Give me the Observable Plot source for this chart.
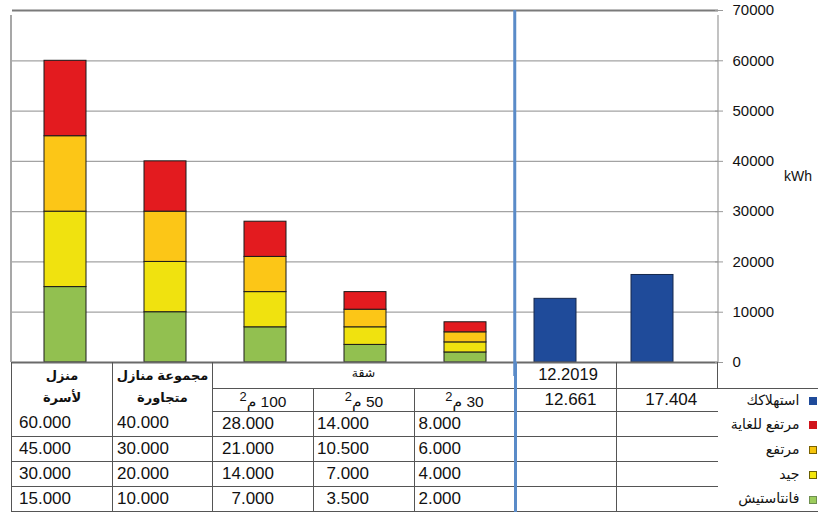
<!DOCTYPE html>
<html>
<head>
<meta charset="utf-8">
<script src="https://cdn.jsdelivr.net/npm/d3@7"></script>
<script src="https://cdn.jsdelivr.net/npm/@observablehq/plot@0.6"></script>
<style>
  html, body { margin: 0; padding: 0; background: #fff; }
  body { font-family: "Liberation Sans", Arial, "DejaVu Sans", sans-serif; }
  #wrap { position: relative; width: 818px; height: 515px; overflow: hidden; }
  #chart { position: absolute; left: 0; top: 0; }
  #kwh { position: absolute; left: 784px; top: 168px; font-size: 14px; color: #111; }
  table { position: absolute; left: 11px; top: 362px; border-collapse: collapse; table-layout: fixed; width: 807px; color: #111; }
  td { padding: 0; border: 0 solid #555; white-space: nowrap; overflow: visible; }
  .hdr { font-weight: bold; font-size: 13px; text-align: center; line-height: 22px; vertical-align: middle; }
  .num { font-size: 17px; text-align: right; }
  .ctr { text-align: center; font-size: 16.5px; }
  .bl { border-left-width: 1px; }
  .br { border-right-width: 1px; }
  .bb { border-bottom-width: 1px; }
  .blue { border-right: 3px solid #5a8bc8 !important; }
  .leg { text-align: right; font-size: 14px; padding-right: 2px; }
  .sq { display: inline-block; width: 8px; height: 8px; margin-left: 9px; vertical-align: middle; box-sizing: border-box; }
</style>
</head>
<body>
<div id="wrap">
  <div id="chart"></div>
  <div id="kwh">kWh</div>
  <table id="tbl"></table>
</div>
<script>
// ---- data ----
const categories = ["house", "terraced", "apt100", "apt50", "apt30", "cons2019", "cons2"];
const rowLabels = ["منزل<br>لأسرة", "مجموعة منازل<br>متجاورة"];
const apartmentLabel = "شقة";
const areaLabels = ["100 م<sup>2</sup>", "50 م<sup>2</sup>", "30 م<sup>2</sup>"];
const consumptionHeader = "12.2019";
// cumulative thresholds (kWh) for the five reference homes
const veryHigh = [60000, 40000, 28000, 14000, 8000];
const high = [45000, 30000, 21000, 10500, 6000];
const good = [30000, 20000, 14000, 7000, 4000];
const fantastic = [15000, 10000, 7000, 3500, 2000];
const consumption = [12661, 17404];
const consumptionText = ["12.661", "17.404"];
const yTicks = [0, 10000, 20000, 30000, 40000, 50000, 60000, 70000];
const levelNames = ["استهلاكك", "مرتفع للغاية", "مرتفع", "جيد", "فانتاستيش"];
const levelColors = { fantastic: "#92c050", good: "#f0e20f", high: "#fcc617", veryHigh: "#e31b1f" };
const consumptionColor = "#1f4b9a";

// ---- build segments ----
const segments = [];
categories.slice(0, 5).forEach((c, i) => {
  segments.push({ cat: c, y1: 0, y2: fantastic[i], level: "fantastic" });
  segments.push({ cat: c, y1: fantastic[i], y2: good[i], level: "good" });
  segments.push({ cat: c, y1: good[i], y2: high[i], level: "high" });
  segments.push({ cat: c, y1: high[i], y2: veryHigh[i], level: "veryHigh" });
});
const consRows = consumption.map((v, i) => ({ cat: categories[5 + i], value: v }));

const PAD_IN = 0.585, PAD_OUT = 0.29;

function frameLines(index, scales, values, dims) {
  const g = d3.create("svg:g");
  const x = scales.x, y = scales.y;
  const step = x(categories[6]) - x(categories[5]);
  const bx = x(categories[5]) - step * PAD_IN / 2;
  const top = y(70000), bottom = y(0);
  g.append("line").attr("x1", dims.marginLeft - 1).attr("x2", dims.marginLeft - 1)
    .attr("y1", top + 5).attr("y2", bottom).attr("stroke", "#8a8a8a").attr("stroke-width", 1.5);
  g.append("line").attr("x1", dims.width - dims.marginRight).attr("x2", dims.width - dims.marginRight)
    .attr("y1", top + 5).attr("y2", bottom).attr("stroke", "#9a9a9a").attr("stroke-width", 1.2);
  g.append("line").attr("x1", bx).attr("x2", bx)
    .attr("y1", top).attr("y2", dims.height).attr("stroke", "#5a8bc8").attr("stroke-width", 3);
  return g.node();
}

const plot = Plot.plot({
  width: 818,
  height: 376,
  marginLeft: 12,
  marginRight: 100,
  marginTop: 10,
  marginBottom: 14,
  style: { fontFamily: "Liberation Sans, Arial, sans-serif", fontSize: "15px", color: "#111", background: "transparent" },
  x: { domain: categories, paddingInner: PAD_IN, paddingOuter: PAD_OUT, axis: null },
  y: { domain: [0, 70000] },
  marks: [
    Plot.ruleY(yTicks.filter(d => d > 0 && d < 70000), { stroke: "#a3a3a3", strokeWidth: 1.2 }),
    Plot.ruleY([70000], { stroke: "#7a7a7a", strokeWidth: 2 }),
    Plot.barY(segments, { x: "cat", y1: "y1", y2: "y2", fill: d => levelColors[d.level], stroke: "#1a1a1a", strokeWidth: 1 }),
    Plot.barY(consRows.slice(0, 1), { x: "cat", y: "value", fill: consumptionColor, stroke: "#16284d", strokeWidth: 1, dx: -10 }),
    Plot.barY(consRows.slice(1), { x: "cat", y: "value", fill: consumptionColor, stroke: "#16284d", strokeWidth: 1, dx: -13 }),
    Plot.ruleY([0], { stroke: "#6a6a6a", strokeWidth: 2 }),
    frameLines,
    Plot.axisY({ anchor: "right", ticks: yTicks, tickSize: 8, dx: -4, tickPadding: 10, tickFormat: d => String(d), stroke: "#999", fill: "#111", fontSize: 15 })
  ]
});
document.getElementById("chart").appendChild(plot);

// ---- table ----
function legendCell(i, extra) {
  const sqStyles = [
    `background:${consumptionColor};`,
    `background:#d0141b;`,
    `background:#f5c40c;border:1px solid #7a6200;`,
    `background:#f3e60a;border:1px solid #6a6000;`,
    `background:#9ccc5c;border:1px solid #6f8f50;`
  ];
  return `<td class="leg ${extra || ""}"><span>${levelNames[i]}</span><span class="sq" style="${sqStyles[i]}"></span></td>`;
}
const pads = [41, 43, 39, 45, 53];
const fmt3 = v => (v / 1000).toFixed(3);
let html = `<colgroup>${[101, 100, 101, 101, 101, 101, 101, 101].map(w => `<col style="width:${w}px">`).join("")}</colgroup>`;
html += `<tr style="height:26px">
  <td rowspan="2" class="hdr bl br" dir="rtl">${rowLabels[0]}</td>
  <td rowspan="2" class="hdr br" dir="rtl">${rowLabels[1]}</td>
  <td colspan="3" class="bb blue" dir="rtl" style="text-align:center;font-size:12.5px;vertical-align:top;padding-top:3px">${apartmentLabel}</td>
  <td class="ctr br bb" style="padding-left:3px">${consumptionHeader}</td>
  <td class="br bb"></td>
  <td class="bb"></td>
</tr>`;
html += `<tr style="height:23px">
  <td class="br bb" dir="rtl" style="text-align:center;font-size:15.5px">${areaLabels[0]}</td>
  <td class="br bb" dir="rtl" style="text-align:center;font-size:15.5px">${areaLabels[1]}</td>
  <td class="bb blue" dir="rtl" style="text-align:center;font-size:15.5px">${areaLabels[2]}</td>
  <td class="ctr br bb" style="padding-left:8px;font-size:17px">${consumptionText[0]}</td>
  <td class="ctr bb" style="padding-left:8px;font-size:17px">${consumptionText[1]}</td>
  ${legendCell(0)}
</tr>`;
const seriesRows = [veryHigh, high, good, fantastic];
seriesRows.forEach((arr, r) => {
  const last = r === seriesRows.length - 1;
  html += `<tr style="height:25px">`;
  arr.forEach((v, i) => {
    const cls = ["num", "bb", i === 0 ? "bl" : "", i === 4 ? "blue" : "br"].join(" ");
    html += `<td class="${cls}" style="padding-right:${pads[i]}px">${fmt3(v)}</td>`;
  });
  html += `<td class="br bb"></td><td class="bb"></td>`;
  html += legendCell(r + 1, last ? "bb" : "");
  html += `</tr>`;
});
document.getElementById("tbl").innerHTML = html;
</script>
</body>
</html>
